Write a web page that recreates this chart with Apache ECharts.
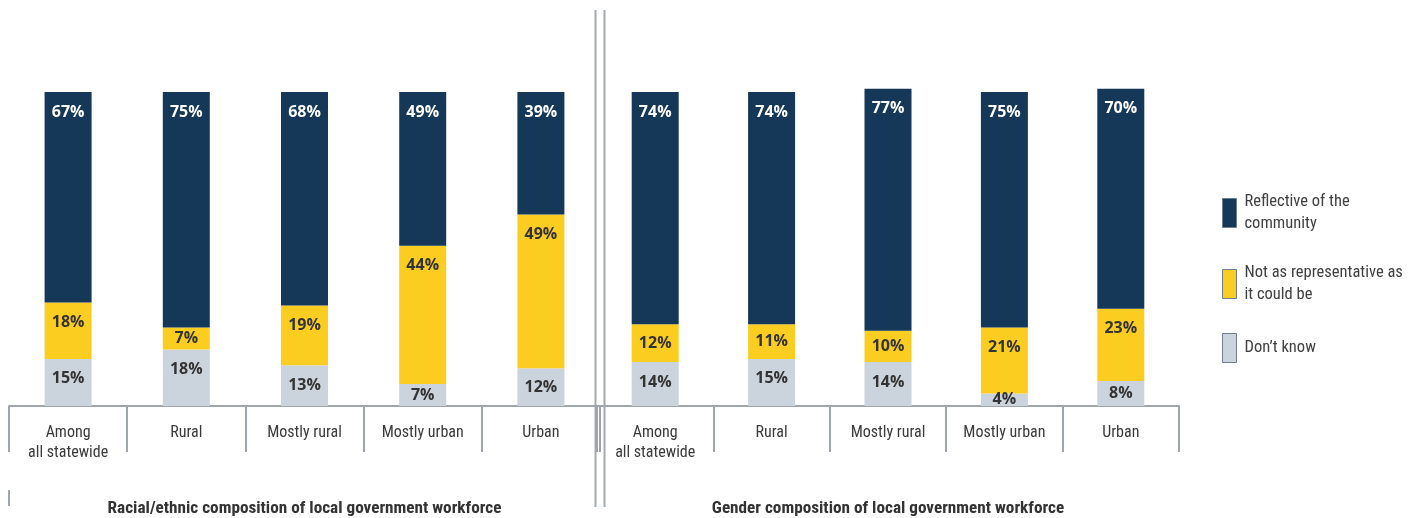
<!DOCTYPE html>
<html>
<head>
<meta charset="utf-8">
<title>Local government workforce composition</title>
<script src="https://cdn.jsdelivr.net/npm/echarts@6/dist/echarts.min.js"></script>
<style>
    html, body { margin: 0; padding: 0; background: #fff; }
    #chart { width: 1411px; height: 518px; }
</style>
</head>
<body>
<div id="chart"></div>
<script>
// Categories
var categories = ['Among\nall statewide', 'Rural', 'Mostly rural', 'Mostly urban', 'Urban'];

// Racial/ethnic composition (%)
var raceReflective = [67, 75, 68, 49, 39];
var raceNotRep = [18, 7, 19, 44, 49];
var raceDontKnow = [15, 18, 13, 7, 12];

// Gender composition (%)
var genderReflective = [74, 74, 77, 75, 70];
var genderNotRep = [12, 11, 10, 21, 23];
var genderDontKnow = [14, 15, 14, 4, 8];

// Panel titles and legend names
var panelTitles = ['Racial/ethnic composition of local government workforce', 'Gender composition of local government workforce'];
var seriesNames = ['Reflective of the community', 'Not as representative as it could be', 'Don\u2019t know'];
var legendText = {
    'Reflective of the community': 'Reflective of the\ncommunity',
    'Not as representative as it could be': 'Not as representative as\nit could be',
    'Don\u2019t know': 'Don\u2019t know'
};

var NAVY = '#153858';
var YELLOW = '#FCCD21';
var GREY = '#CBD3DC';
var RULE = '#9ea5ad';

// Pick a condensed face if one is installed, else Roboto at a smaller size
var pickNarrow = function () {
    var ctx = document.createElement('canvas').getContext('2d');
    var probe = 'Racial/ethnic composition 0123';
    ctx.font = '16px monospace';
    var base = ctx.measureText(probe).width;
    var cands = ['Liberation Sans Narrow', 'Roboto Condensed', 'DejaVu Sans Condensed', 'Arial Narrow'];
    for (var i = 0; i < cands.length; i++) {
        ctx.font = '16px "' + cands[i] + '", monospace';
        if (Math.abs(ctx.measureText(probe).width - base) > 0.5) {
            return { family: '"' + cands[i] + '"', scale: 1 };
        }
    }
    return { family: 'Roboto, sans-serif', scale: 0.875 };
};
var narrowFont = pickNarrow();
var narrow = narrowFont.family;
var nfs = function (px) { return Math.round(px * narrowFont.scale * 10) / 10; };

var chartEl = document.getElementById('chart');
var chart = echarts.init(chartEl);

// Value labels: small segments centred, tall ones near the top
var segLabel = function (color) {
    return {
        show: true,
        formatter: '{c}%',
        color: color,
        fontFamily: '"Open Sans", sans-serif',
        fontWeight: 700,
        fontSize: 16
    };
};
var withPos = function (arr) {
    return arr.map(function (v) {
        return {
            value: v,
            label: v <= 12 ? { position: 'inside' } : { position: 'insideTop', distance: 12 }
        };
    });
};

var makeSeries = function (name, data, stack, idx, color, labelColor) {
    return {
        name: name,
        type: 'bar',
        stack: stack,
        xAxisIndex: idx,
        yAxisIndex: idx,
        barWidth: 47,
        clip: false,
        itemStyle: { color: color },
        label: segLabel(labelColor),
        emphasis: { disabled: true },
        data: withPos(data)
    };
};

// Category axis (bottom with labels and long dividers)
var mainAxis = function (gridIndex, title) {
    return {
        type: 'category',
        gridIndex: gridIndex,
        data: categories,
        boundaryGap: true,
        axisLine: { show: true, lineStyle: { color: RULE, width: 2 } },
        axisTick: { show: true, interval: 0, length: 46, lineStyle: { color: RULE, width: 2 } },
        axisLabel: {
            interval: 0,
            margin: 17,
            color: '#3a3a3a',
            fontFamily: narrow,
            fontSize: nfs(16),
            lineHeight: 20
        },
        name: title,
        nameLocation: 'middle',
        nameGap: 94,
        nameTextStyle: {
            color: '#333',
            fontFamily: narrow,
            fontWeight: 'bold',
            fontSize: nfs(17.2)
        }
    };
};

// Short dividers that stick up above the axis line
var innerAxis = function (gridIndex) {
    return {
        type: 'category',
        gridIndex: gridIndex,
        data: categories,
        boundaryGap: true,
        axisLine: { show: false },
        axisTick: { show: true, interval: 0, inside: true, length: 11, lineStyle: { color: RULE, width: 2 } },
        axisLabel: { show: false }
    };
};

var valueAxis = function (gridIndex) {
    return {
        type: 'value',
        gridIndex: gridIndex,
        min: 0,
        max: 100,
        show: false
    };
};

chart.setOption({
    animation: false,

    grid: [
        { left: 9, width: 591, top: 92, height: 314, outerBoundsMode: 'none' },
        { left: 597, width: 582, top: 92, height: 314, outerBoundsMode: 'none' }
    ],

    legend: {
        orient: 'vertical',
        left: 1217,
        top: 186,
        icon: 'rect',
        itemWidth: 14,
        itemHeight: 29,
        itemGap: 27,
        selectedMode: false,
        data: seriesNames.map(function (n) {
            return { name: n, itemStyle: { borderColor: '#6f7f90', borderWidth: 1 } };
        }),
        formatter: function (n) { return legendText[n]; },
        textStyle: {
            color: '#404040',
            fontFamily: narrow,
            fontSize: nfs(16.5),
            lineHeight: 22,
            padding: [0, 0, 0, 3]
        }
    },

    xAxis: [mainAxis(0, panelTitles[0]), mainAxis(1, panelTitles[1]), innerAxis(0), innerAxis(1)],
    yAxis: [valueAxis(0), valueAxis(1), valueAxis(0), valueAxis(1)],

    series: [
        makeSeries(seriesNames[2], raceDontKnow, 'race', 0, GREY, '#333'),
        makeSeries(seriesNames[1], raceNotRep, 'race', 0, YELLOW, '#333'),
        makeSeries(seriesNames[0], raceReflective, 'race', 0, NAVY, '#fff'),
        makeSeries(seriesNames[2], genderDontKnow, 'gender', 1, GREY, '#333'),
        makeSeries(seriesNames[1], genderNotRep, 'gender', 1, YELLOW, '#333'),
        makeSeries(seriesNames[0], genderReflective, 'gender', 1, NAVY, '#fff')
    ],

    // Panel separator and left edge stub
    graphic: [
        { type: 'line', shape: { x1: 595.5, y1: 10, x2: 595.5, y2: 507 }, style: { stroke: '#a3a9b0', lineWidth: 2 } },
        { type: 'line', shape: { x1: 604.5, y1: 10, x2: 604.5, y2: 507 }, style: { stroke: '#a3a9b0', lineWidth: 2 } },
        { type: 'line', shape: { x1: 9, y1: 490, x2: 9, y2: 506 }, style: { stroke: RULE, lineWidth: 2 } }
    ]
});

window.addEventListener('resize', function () {
    chart.resize();
});
</script>
</body>
</html>
